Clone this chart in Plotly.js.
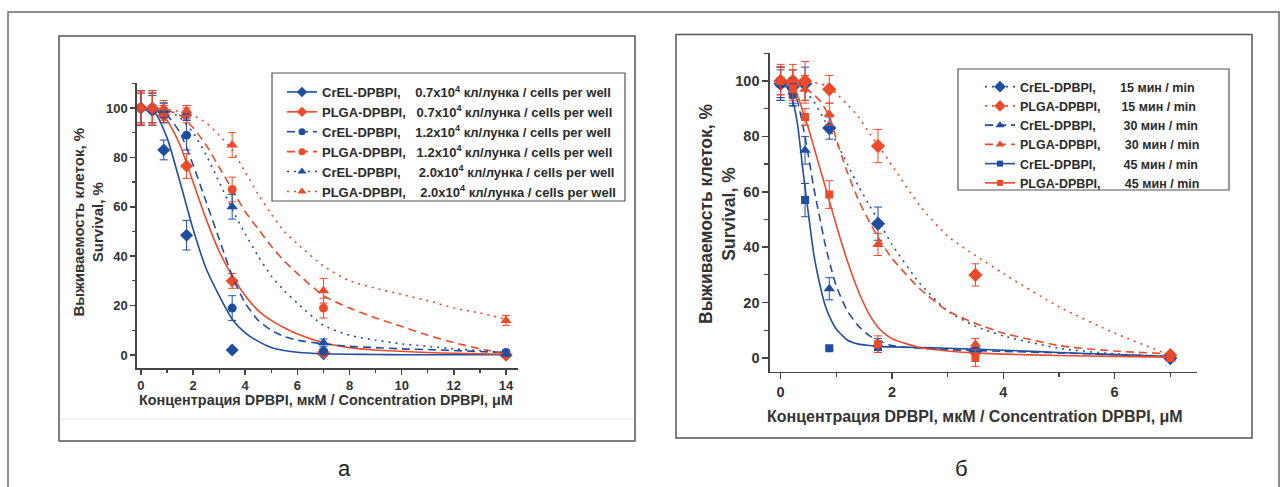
<!DOCTYPE html>
<html><head><meta charset="utf-8">
<script src="https://cdn.plot.ly/plotly-3.0.1.min.js"></script>
<style>
html,body{margin:0;padding:0;background:#fff;}
#chart{width:1283px;height:487px;}
</style>
</head><body><div id="chart"></div>
<script>
// ---------- Panel а : survival vs concentration, different cell densities ----------
const concA = [0, 0.44, 0.875, 1.75, 3.5, 7, 14];
const crel07 = [100, 99, 83, 48.5, 2, 0.5, 0];
const crel07Err = [7, 6, 4, 6, 0.5, 0.5, 0.5];
const plga07 = [100, 100, 97, 76.5, 30, 1, 0];
const plga07Err = [6, 6, 3, 5, 3, 1, 0.5];
const crel12 = [100, 100, 98, 89, 19, 1.5, 1];
const crel12Err = [7, 6, 4, 6, 5, 1, 1];
const plga12 = [100, 100, 98, 97, 67, 19, 0];
const plga12Err = [6, 6, 3, 3, 5, 4, 0.5];
const crel20 = [100, 100, 99, 98, 60, 5, 0.5];
const crel20Err = [7, 7, 3, 3, 5, 1.5, 1];
const plga20 = [100, 100, 100, 99, 85, 26, 14];
const plga20Err = [7, 7, 3, 2, 5, 5, 2];

const fitXA = [0, 0.5, 1, 1.5, 2, 2.5, 3, 3.5, 4, 4.5, 5, 5.5, 6, 7, 8, 9, 10, 11, 12, 13, 14];
const fitCrel07 = [100, 98.5, 88, 70, 51, 35, 24, 14.5, 9, 5.5, 3, 1.8, 1.1, 0.5, 0.3, 0.2, 0.1, 0.1, 0.1, 0.1, 0.1];
const fitPlga07 = [100, 99.5, 95, 85, 70, 55, 42, 32, 24, 18, 14, 11, 8.5, 5, 3, 2, 1.5, 1, 0.7, 0.5, 0.3];
const fitCrel12 = [100, 99.5, 97, 90, 77, 62, 47, 32, 21, 14, 10, 7.5, 6, 4.5, 3.5, 3, 2.5, 2.2, 1.8, 1.4, 1];
const fitPlga12 = [100, 100, 99, 97, 92, 85, 76, 67, 58, 51, 44, 38, 33, 24, 19, 15, 11.5, 8, 5, 2.5, 0.5];
const fitCrel20 = [100, 99.5, 99, 96, 90, 81, 70, 59, 49, 40, 32, 26, 21, 12, 8, 6, 4.5, 3.5, 2.5, 1.8, 1];
const fitPlga20 = [100, 100, 99.5, 98.5, 97, 94, 89, 83, 74, 65, 57, 50, 45, 36, 30, 27, 24.5, 22, 19, 17, 14.5];

const S = n => '\u00a0'.repeat(n);
const namesA = [
  "CrEL-DPBPI," + S(4) + "0.7x10<sup>4</sup> кл/лунка / cells per well",
  "PLGA-DPBPI," + S(3) + "0.7x10<sup>4</sup> кл/лунка / cells per well",
  "CrEL-DPBPI," + S(4) + "1.2x10<sup>4</sup> кл/лунка / cells per well",
  "PLGA-DPBPI," + S(3) + "1.2x10<sup>4</sup> кл/лунка / cells per well",
  "CrEL-DPBPI," + S(5) + "2.0x10<sup>4</sup> кл/лунка / cells per well",
  "PLGA-DPBPI," + S(4) + "2.0x10<sup>4</sup> кл/лунка / cells per well"
];

// ---------- Panel б : survival vs concentration, different incubation times ----------
const concB = [0, 0.22, 0.44, 0.875, 1.75, 3.5, 7];
const crel15 = [99, 98, 99, 83, 48.5, 2.5, 0];
const crel15Err = [6, 6, 6, 4, 6, 1, 0.5];
const plga15 = [100, 100, 100, 97, 76.5, 30, 1];
const plga15Err = [6, 6, 7, 5, 6, 4, 1];
const crel30 = [99, 96, 75, 25, 5, 2.5, 0];
const crel30Err = [5, 5, 5, 4, 2, 1, 0.5];
const plga30 = [100, 99, 97, 88, 41, 5, 1];
const plga30Err = [5, 5, 5, 4, 4, 2, 1];
const crel45 = [99, 95, 57, 3.5, 4, 2.5, 0];
const crel45Err = [6, 4, 6, 0.5, 2, 1, 0.5];
const plga45 = [100, 97, 87, 59, 5, 0, 0];
const plga45Err = [5, 4, 3, 5, 3, 3, 0.5];

const fitXB = [0, 0.1, 0.2, 0.3, 0.4, 0.5, 0.6, 0.7, 0.8, 0.9, 1.0, 1.2, 1.4, 1.6, 1.8, 2.0, 2.5, 3, 3.5, 4, 5, 6, 7];
const fitCrel15 = [100, 100, 99.5, 99, 97.5, 95, 92.5, 89, 85.5, 82, 78, 70, 62, 55, 48, 41, 27, 17, 11.5, 8, 3.5, 1.5, 0.5];
const fitPlga15 = [100, 100, 100, 100, 100, 100, 99.5, 99, 98.5, 97.5, 95.5, 91.5, 87, 81, 75.5, 69.5, 55, 44, 37, 30.5, 18.5, 9, 1];
const fitCrel30 = [100, 99.5, 98, 93, 84, 73, 61, 51, 41, 33, 26, 17, 11.5, 8, 6, 4.5, 3.5, 3, 2.7, 2.4, 1.8, 1.2, 0.5];
const fitPlga30 = [100, 100, 99.5, 99, 98, 96.5, 95, 93, 90, 86, 79, 67, 57, 49, 42, 36, 25, 17, 12.5, 9, 4.5, 2.5, 1.5];
const fitCrel45 = [99.5, 98, 94, 85, 68, 52, 37, 27, 19, 14, 10.5, 6.5, 5, 4.5, 4.1, 4, 3.8, 3.5, 3.2, 2.8, 2, 1.2, 0.5];
const fitPlga45 = [100, 99.5, 98, 95, 89, 83, 76, 69, 62, 55, 48, 35, 24, 15.5, 10, 7, 3.8, 2.5, 1.8, 1.4, 0.9, 0.6, 0.3];

const namesB = [
  "CrEL-DPBPI," + S(7) + "15 мин / min",
  "PLGA-DPBPI," + S(6) + "15 мин / min",
  "CrEL-DPBPI," + S(8) + "30 мин / min",
  "PLGA-DPBPI," + S(7) + "30 мин / min",
  "CrEL-DPBPI," + S(8) + "45 мин / min",
  "PLGA-DPBPI," + S(7) + "45 мин / min"
];

// ---------- styling ----------
const BLUE = '#1f4ea0', RED = '#ec4a2a';
const FONT = 'Liberation Sans, Arial, sans-serif';
const DOT = '2px,5px', DASH = '8px,5px';
const W = 1283, H = 487;
const px = v => v / W, py = v => 1 - v / H;

const traces = [];
function series(xa, ya, leg, x, y, err, fx, fy, color, symbol, size, dash, name) {
  traces.push({x: fx, y: fy, xaxis: xa, yaxis: ya, mode: 'lines', type: 'scatter',
    line: {color: color, width: 1.6, dash: dash, shape: 'spline', smoothing: 0.6},
    showlegend: false, hoverinfo: 'skip'});
  traces.push({x: x, y: y, xaxis: xa, yaxis: ya, mode: 'markers', type: 'scatter',
    marker: {color: color, symbol: symbol, size: size},
    error_y: {type: 'data', array: err, visible: true, color: color, thickness: 1, width: 4},
    showlegend: false});
  traces.push({x: [null], y: [null], xaxis: xa, yaxis: ya, mode: 'lines+markers', type: 'scatter',
    line: {color: color, width: 1.6, dash: dash}, marker: {color: color, symbol: symbol, size: size - 2},
    name: name, legend: leg, showlegend: true});
}
series('x', 'y', 'legend', concA, crel07, crel07Err, fitXA, fitCrel07, BLUE, 'diamond', 10, 'solid', namesA[0]);
series('x', 'y', 'legend', concA, plga07, plga07Err, fitXA, fitPlga07, RED, 'diamond', 10, 'solid', namesA[1]);
series('x', 'y', 'legend', concA, crel12, crel12Err, fitXA, fitCrel12, BLUE, 'circle', 9, DASH, namesA[2]);
series('x', 'y', 'legend', concA, plga12, plga12Err, fitXA, fitPlga12, RED, 'circle', 9, DASH, namesA[3]);
series('x', 'y', 'legend', concA, crel20, crel20Err, fitXA, fitCrel20, BLUE, 'triangle-up', 10, DOT, namesA[4]);
series('x', 'y', 'legend', concA, plga20, plga20Err, fitXA, fitPlga20, RED, 'triangle-up', 10, DOT, namesA[5]);

series('x2', 'y2', 'legend2', concB, crel15, crel15Err, fitXB, fitCrel15, BLUE, 'diamond', 11, DOT, namesB[0]);
series('x2', 'y2', 'legend2', concB, plga15, plga15Err, fitXB, fitPlga15, RED, 'diamond', 11, DOT, namesB[1]);
series('x2', 'y2', 'legend2', concB, crel30, crel30Err, fitXB, fitCrel30, BLUE, 'triangle-up', 10, DASH, namesB[2]);
series('x2', 'y2', 'legend2', concB, plga30, plga30Err, fitXB, fitPlga30, RED, 'triangle-up', 10, DASH, namesB[3]);
series('x2', 'y2', 'legend2', concB, crel45, crel45Err, fitXB, fitCrel45, BLUE, 'square', 8, 'solid', namesB[4]);
series('x2', 'y2', 'legend2', concB, plga45, plga45Err, fitXB, fitPlga45, RED, 'square', 8, 'solid', namesB[5]);

function axis(domain, range, dtick, minor, fs, tl) {
  return {domain: domain, range: range, tickmode: 'linear', tick0: 0, dtick: dtick,
    ticks: 'outside', ticklen: tl, tickwidth: 1.5, tickcolor: '#444',
    minor: {dtick: minor, ticks: 'outside', ticklen: tl - 2, tickwidth: 1.2, tickcolor: '#444'},
    showline: true, linecolor: '#444', linewidth: 1.6, showgrid: false, zeroline: false,
    tickfont: {family: FONT, size: fs, color: '#333', weight: 'bold'}, fixedrange: true};
}
const xA = axis([px(137), px(518)], [-0.15, 14.46], 2, 1, 13, 5); xA.anchor = 'y';
const yA = axis([py(368), py(83)], [-5.26, 110.1], 20, 10, 13, 5); yA.anchor = 'x';
const xB = axis([px(770), px(1197)], [-0.19, 7.48], 2, 1, 14.5, 6); xB.anchor = 'y2';
const yB = axis([py(371.7), py(53)], [-4.95, 110.1], 20, 10, 14.5, 6); yB.anchor = 'x2';

function rect(x0, y0, x1, y1, color, w) {
  return {type: 'rect', xref: 'paper', yref: 'paper', x0: px(x0), x1: px(x1), y0: py(y1), y1: py(y0),
    line: {color: color, width: w}, fillcolor: 'rgba(0,0,0,0)', layer: 'below'};
}
function hline(x0, x1, y, color, w) {
  return {type: 'line', xref: 'paper', yref: 'paper', x0: px(x0), x1: px(x1), y0: py(y), y1: py(y),
    line: {color: color, width: w}, layer: 'below'};
}
const shapes = [
  rect(8, 12, 1279, 500, '#6a6a6a', 1.5),
  rect(59, 36, 635, 441, '#555', 1.5),
  rect(676, 34.5, 1252, 438, '#555', 1.5),
  hline(60, 634, 419, '#e6e6e6', 1),
  rect(272, 73, 625, 201, '#555', 1.2),
  rect(958, 69, 1229, 190, '#555', 1.2)
];

function ann(text, x, y, size, opts) {
  return Object.assign({text: text, xref: 'paper', yref: 'paper', x: px(x), y: py(y),
    xanchor: 'center', yanchor: 'middle', showarrow: false,
    font: {family: FONT, size: size, color: '#333', weight: 'bold'}}, opts || {});
}
const annotations = [
  ann('Выживаемость клеток, %<br>Survival, %', 87.5, 222, 15, {textangle: -90}),
  ann('Выживаемость клеток, %<br>Survival, %', 718, 214, 17.5, {textangle: -90}),
  ann('Концентрация DPBPI, мкМ / Concentration DPBPI, μM', 326, 400, 14.4),
  ann('Концентрация DPBPI, мкМ / Concentration DPBPI, μM', 975, 416, 16),
  ann('а', 344, 468, 22, {font: {family: FONT, size: 22, color: '#222'}}),
  ann('б', 962, 468, 22, {font: {family: FONT, size: 22, color: '#222'}})
];

const layout = {
  width: W, height: H, margin: {l: 0, r: 0, t: 0, b: 0},
  paper_bgcolor: '#fff', plot_bgcolor: 'rgba(0,0,0,0)',
  xaxis: xA, yaxis: yA, xaxis2: xB, yaxis2: yB,
  shapes: shapes, annotations: annotations,
  legend: {x: px(282), y: py(77), xanchor: 'left', yanchor: 'top', bgcolor: 'rgba(0,0,0,0)',
    borderwidth: 0, tracegroupgap: 0, traceorder: 'normal',
    font: {family: FONT, size: 13, color: '#2a2a2a', weight: 'bold'}},
  legend2: {x: px(980), y: py(72), xanchor: 'left', yanchor: 'top', bgcolor: 'rgba(0,0,0,0)',
    borderwidth: 0, tracegroupgap: 0, traceorder: 'normal',
    font: {family: FONT, size: 12.5, color: '#2a2a2a', weight: 'bold'}},
  showlegend: true
};
Plotly.newPlot('chart', traces, layout, {staticPlot: true, displayModeBar: false});
</script></body></html>
